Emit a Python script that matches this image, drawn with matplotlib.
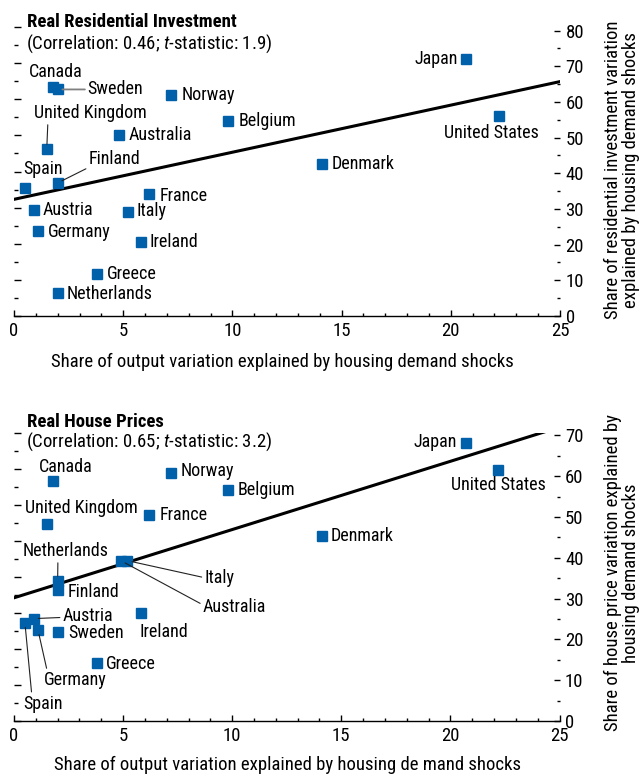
import matplotlib
matplotlib.use('Agg')
import matplotlib.pyplot as plt
import matplotlib.font_manager as fm
from matplotlib.ticker import MultipleLocator

_names = {f.name for f in fm.fontManager.ttflist}
_cands = [n for n in ['Roboto Condensed', 'Archivo Narrow', 'PT Sans Narrow',
                      'Barlow Condensed'] if n in _names]
NARROW = _cands[0] if _cands else 'DejaVu Sans'
plt.rcParams['font.family'] = [NARROW, 'DejaVu Sans']
plt.rcParams['mathtext.fontset'] = 'custom'
plt.rcParams['mathtext.rm'] = NARROW
plt.rcParams['mathtext.it'] = NARROW + ':italic'

# ---------------- data ----------------
inv_countries = ['Canada', 'Sweden', 'Norway', 'Belgium', 'United Kingdom', 'Australia',
                 'Spain', 'Finland', 'France', 'Japan', 'United States', 'Denmark',
                 'Austria', 'Italy', 'Germany', 'Ireland', 'Greece', 'Netherlands']
inv_x = [1.8, 2.0, 7.2, 9.8, 1.5, 4.8, 0.5, 2.0, 6.2, 20.7, 22.2, 14.1,
         0.9, 5.2, 1.1, 5.8, 3.8, 2.0]
inv_y = [64.3, 63.5, 62.0, 54.6, 46.8, 50.8, 35.9, 37.3, 34.1, 72.1, 56.1, 42.7,
         29.7, 29.1, 23.7, 20.8, 11.8, 6.5]
inv_fit = (32.7, 1.32)   # intercept, slope

hp_countries = ['Canada', 'Norway', 'Belgium', 'United Kingdom', 'France', 'Australia',
                'Italy', 'Netherlands', 'Finland', 'Austria', 'Spain', 'Germany',
                'Sweden', 'Ireland', 'Greece', 'Japan', 'United States', 'Denmark']
hp_x = [1.8, 7.2, 9.8, 1.5, 6.2, 4.9, 5.2, 2.0, 2.0, 0.9, 0.5, 1.1,
        2.0, 5.8, 3.8, 20.7, 22.2, 14.1]
hp_y = [58.8, 60.8, 56.6, 48.2, 50.6, 39.3, 39.3, 34.3, 32.2, 25.1, 24.1, 22.3,
        21.8, 26.4, 14.1, 68.1, 61.5, 45.3]
hp_fit = (30.2, 1.673)

x_ticks = [0, 5, 10, 15, 20, 25]
inv_yticks = [0, 10, 20, 30, 40, 50, 60, 70, 80]
hp_yticks = [0, 10, 20, 30, 40, 50, 60, 70]

# ---------------- layout / style ----------------
W, H = 642, 774
BLUE = '#0060A9'
FS = 13
TFS = 13.5
LEAD = '#222222'
GRAY = '#808080'

# label placement: (dx px, dy px, ha, leader relpos or None, leader colour)
inv_lab = {
    'Canada': (2, 15, 'center', None, None),
    'Sweden': (30, 0, 'left', (0, 0.5), GRAY),
    'Norway': (10, 0, 'left', None, None),
    'Belgium': (11, 0, 'left', None, None),
    'United Kingdom': (44, 36, 'center', (0.12, 0.05), LEAD),
    'Australia': (10, 0, 'left', None, None),
    'Spain': (18, 19, 'center', None, None),
    'Finland': (31, 24, 'left', (0.05, 0.1), LEAD),
    'France': (10, -2, 'left', None, None),
    'Japan': (-8, 0, 'right', None, None),
    'United States': (-7, -17, 'center', None, None),
    'Denmark': (10, 0, 'left', None, None),
    'Austria': (9, 0, 'left', None, None),
    'Italy': (9, 1, 'left', None, None),
    'Germany': (10, -1, 'left', None, None),
    'Ireland': (9, 0, 'left', None, None),
    'Greece': (10, 0, 'left', None, None),
    'Netherlands': (9, -1, 'left', None, None),
}
hp_lab = {
    'Canada': (12, 14, 'center', None, None),
    'Norway': (10, 2, 'left', None, None),
    'Belgium': (10, 0, 'left', None, None),
    'United Kingdom': (35, 16, 'center', None, None),
    'France': (10, 0, 'left', None, None),
    'Australia': (82, -46, 'left', (0, 0.6), LEAD),
    'Italy': (77, -17, 'left', (0, 0.5), LEAD),
    'Netherlands': (8, 30, 'center', (0.41, 0.05), LEAD),
    'Finland': (10, -2, 'left', None, None),
    'Austria': (29, 3, 'left', (0, 0.4), LEAD),
    'Spain': (18, -81, 'center', (0.22, 0.95), LEAD),
    'Germany': (37, -50, 'center', (0.06, 0.95), LEAD),
    'Sweden': (11, -1, 'left', None, None),
    'Ireland': (-1, -19, 'left', None, None),
    'Greece': (9, -1, 'left', None, None),
    'Japan': (-9, 1, 'right', None, None),
    'United States': (0, -15, 'center', None, None),
    'Denmark': (9, 0, 'left', None, None),
}

fig = plt.figure(figsize=(W / 100, H / 100), dpi=100)


def rect(left, top, right, bottom):
    return [left / W, 1 - bottom / H, (right - left) / W, (bottom - top) / H]


def panel(r, xs, ys, names, labs, fit, yticks, ytop):
    # left decorative tick scale
    axl = fig.add_axes(r, frameon=False)
    axl.set_ylim(0, 80)
    axl.set_xlim(0, 25)
    axl.set_xticks([])
    axl.yaxis.set_major_locator(MultipleLocator(10))
    axl.yaxis.set_minor_locator(MultipleLocator(5))
    axl.tick_params(axis='y', which='major', direction='in', length=5, width=1,
                    left=True, right=False, labelleft=False)
    axl.tick_params(axis='y', which='minor', direction='in', length=3, width=1,
                    left=True, right=False)

    ax = fig.add_axes(r)
    ax.patch.set_alpha(0)
    for s in ['top', 'left', 'right']:
        ax.spines[s].set_visible(False)
    ax.spines['bottom'].set_linewidth(1.0)
    ax.set_xlim(0, 25)
    ax.set_ylim(0, ytop)
    ax.set_xticks(x_ticks)
    ax.xaxis.set_minor_locator(MultipleLocator(1))
    ax.tick_params(axis='x', which='major', direction='in', length=4, width=1,
                   labelsize=TFS, pad=4)
    ax.tick_params(axis='x', which='minor', direction='in', length=2.5, width=1)
    ax.yaxis.tick_right()
    ax.set_yticks(yticks)
    ax.yaxis.set_minor_locator(MultipleLocator(5))
    ax.tick_params(axis='y', which='major', direction='in', length=4.5, width=1,
                   labelsize=TFS, pad=4, left=False, right=True)
    ax.tick_params(axis='y', which='minor', direction='in', length=2, width=1,
                   left=False, right=True)

    b, m = fit
    ax.plot([0, 25], [b, b + m * 25], color='black', lw=2.2, zorder=2)
    ax.plot(xs, ys, ls='none', marker='s', ms=6.8, color=BLUE, zorder=3,
            clip_on=False)
    for n, x, y in zip(names, xs, ys):
        dx, dy, ha, rp, col = labs[n]
        kw = {}
        if rp is not None:
            kw['arrowprops'] = dict(arrowstyle='-', color=col,
                                    lw=1.3 if col == GRAY else 0.8,
                                    shrinkA=0, shrinkB=3.4, relpos=rp)
        ax.annotate(n, (x, y), xytext=(dx, dy), textcoords='offset pixels',
                    ha=ha, va='center', fontsize=FS, zorder=4, **kw)
    return ax


ax1 = panel(rect(14, 27, 560, 316), inv_x, inv_y, inv_countries, inv_lab,
            inv_fit, inv_yticks, 81)
ax2 = panel(rect(14, 433, 559.5, 721), hp_x, hp_y, hp_countries, hp_lab,
            hp_fit, hp_yticks, 70.6)

# titles
fig.text(27 / W, 1 - 22 / H, 'Real Residential Investment', fontsize=TFS,
         fontweight='bold', ha='left', va='center')
fig.text(26 / W, 1 - 44 / H, '(Correlation: 0.46; $t$-statistic: 1.9)',
         fontsize=TFS, ha='left', va='center')
fig.text(27 / W, 1 - 422 / H, 'Real House Prices', fontsize=TFS,
         fontweight='bold', ha='left', va='center')
fig.text(26 / W, 1 - 442 / H, '(Correlation: 0.65; $t$-statistic: 3.2)',
         fontsize=TFS, ha='left', va='center')

# axis titles
fig.text(282 / W, 1 - 362 / H,
         'Share of output variation explained by housing demand shocks',
         fontsize=TFS, ha='center', va='center')
fig.text(288 / W, 1 - 765 / H,
         'Share of output variation explained by housing de mand shocks',
         fontsize=TFS, ha='center', va='center')
fig.text(622 / W, 1 - 170 / H,
         'Share of residential investment variation\nexplained by housing demand shocks',
         fontsize=TFS, rotation=90, ha='center', va='center',
         multialignment='center', linespacing=1.05)
fig.text(622 / W, 1 - 573 / H,
         'Share of house price variation explained by\nhousing demand shocks',
         fontsize=TFS, rotation=90, ha='center', va='center',
         multialignment='center', linespacing=1.05)

fig.savefig('out.png', dpi=100)
